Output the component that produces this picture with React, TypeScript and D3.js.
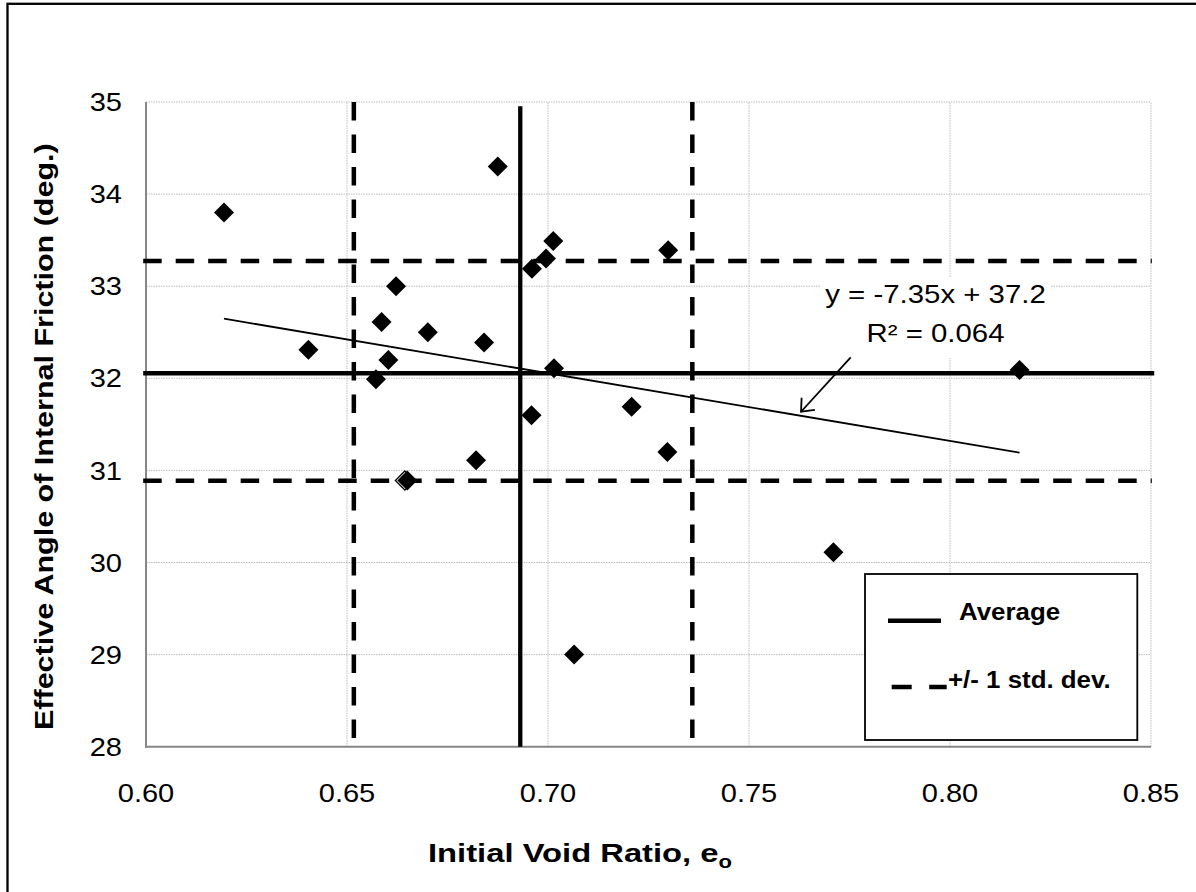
import React from "react";
import * as d3 from "d3";

// ---- data ----
const voidRatio = [0.6194, 0.6404, 0.6572, 0.6586, 0.6603, 0.6622, 0.665, 0.6701, 0.6821, 0.6841, 0.6875, 0.696, 0.6959, 0.6995, 0.7013, 0.7015, 0.7065, 0.7208, 0.7299, 0.7297, 0.771, 0.8173];
const frictionAngle = [33.8, 32.31, 31.99, 32.61, 32.2, 33.0, 30.89, 32.5, 31.11, 32.39, 34.3, 33.19, 31.6, 33.3, 33.49, 32.11, 29.0, 31.69, 33.39, 31.2, 30.11, 32.09];
const openPointX = [0.6644];
const openPointY = [30.89];

const avgPhi = 32.055;
const stdPhiUpper = 33.274;
const stdPhiLower = 30.888;
const avgE = 0.6931;
const stdEUpper = 0.7359;
const stdELower = 0.6517;

const trendSlope = -7.35;
const trendIntercept = 37.2;

const xTicks = [0.6, 0.65, 0.7, 0.75, 0.8, 0.85];
const yTicks = [28, 29, 30, 31, 32, 33, 34, 35];
const xTickLabels = ["0.60", "0.65", "0.70", "0.75", "0.80", "0.85"];

const arrowFrom = [0.7753, 32.228];
const arrowTo = [0.76294, 31.637];

const FONT = "'Liberation Sans', Arial, Helvetica, sans-serif";

function T(props: any) {
  const { x, y, size, k = 1, bold = false, anchor = "start", rot = 0, children } = props;
  return (
    <text
      transform={`translate(${x},${y}) rotate(${rot}) scale(${k},1)`}
      fontSize={size}
      fontWeight={bold ? "bold" : "normal"}
      textAnchor={anchor}
      fontFamily={FONT}
      fill="#000"
    >
      {children}
    </text>
  );
}

export default function App() {
  const W = 1196;
  const H = 892;
  const x = d3.scaleLinear().domain([0.6, 0.85]).range([146, 1151]);
  const y = d3.scaleLinear().domain([28, 35]).range([746.7, 102]);

  const diamond = (cx: number, cy: number, r: number) => {
    const p = d3.path();
    p.moveTo(cx, cy - r);
    p.lineTo(cx + r, cy);
    p.lineTo(cx, cy + r);
    p.lineTo(cx - r, cy);
    p.closePath();
    return p.toString();
  };

  const line = d3.line<[number, number]>().x((d) => x(d[0])).y((d) => y(d[1]));

  const hx0 = 0.5993;
  const hx1 = 0.8502;

  const xMin = d3.min(voidRatio) as number;
  const xMax = d3.max(voidRatio) as number;
  const trendPts: [number, number][] = [
    [xMin, trendSlope * xMin + trendIntercept],
    [xMax, trendSlope * xMax + trendIntercept],
  ];

  // arrow head
  const ax0 = x(arrowFrom[0]), ay0 = y(arrowFrom[1]);
  const ax1 = x(arrowTo[0]), ay1 = y(arrowTo[1]);
  const ang = Math.atan2(ay0 - ay1, ax0 - ax1);
  const hl = 14;
  const ha = (40 * Math.PI) / 180;
  const h1 = [ax1 + hl * Math.cos(ang - ha), ay1 + hl * Math.sin(ang - ha)];
  const h2 = [ax1 + hl * Math.cos(ang + ha), ay1 + hl * Math.sin(ang + ha)];

  const capTick = 25.5 * 0.716;

  return (
    <svg
      width={W}
      height={H}
      style={{ position: "absolute", left: 0, top: 0, background: "#fff" }}
    >
      <rect x={0} y={0} width={W} height={H} fill="#fff" />
      {/* outer frame */}
      <rect x={7.5} y={3.8} width={W + 20} height={H + 20} fill="none" stroke="#000" strokeWidth={2.3} />

      {/* grid */}
      {yTicks.map((t) => (
        <line key={"gy" + t} x1={x(0.6)} x2={x(0.85)} y1={y(t)} y2={y(t)} stroke="#bdbdbd" strokeWidth={1} strokeDasharray="1.5,1" />
      ))}
      {xTicks.map((t) => (
        <line key={"gx" + t} x1={x(t)} x2={x(t)} y1={y(28)} y2={y(35)} stroke="#bdbdbd" strokeWidth={1} strokeDasharray="1.5,1" />
      ))}

      {/* annotation background */}
      <rect x={821} y={277} width={229} height={81} fill="#fff" />

      {/* axes */}
      <line x1={x(0.6)} x2={x(0.6)} y1={y(35)} y2={y(28) + 1} stroke="#868686" strokeWidth={2} />
      <line x1={x(0.6) - 1} x2={x(0.85)} y1={y(28)} y2={y(28)} stroke="#868686" strokeWidth={2} />

      {/* std dev dashed lines */}
      <path d={line([[hx0, stdPhiUpper], [hx1, stdPhiUpper]]) as string} stroke="#000" strokeWidth={4.5} strokeDasharray="18.5,14" fill="none" />
      <path d={line([[hx0, stdPhiLower], [hx1, stdPhiLower]]) as string} stroke="#000" strokeWidth={4.5} strokeDasharray="18.5,14" fill="none" />
      <path d={line([[stdELower, 35], [stdELower, 28]]) as string} stroke="#000" strokeWidth={4.5} strokeDasharray="18.5,14" fill="none" />
      <path d={line([[stdEUpper, 35], [stdEUpper, 28]]) as string} stroke="#000" strokeWidth={4.5} strokeDasharray="18.5,14" fill="none" />

      {/* average lines */}
      <path d={line([[hx0, avgPhi], [0.8508, avgPhi]]) as string} stroke="#000" strokeWidth={4.3} fill="none" />
      <path d={line([[avgE, 34.955], [avgE, 28]]) as string} stroke="#000" strokeWidth={4.3} fill="none" />

      {/* trendline */}
      <path d={line(trendPts) as string} stroke="#000" strokeWidth={1.8} fill="none" />

      {/* points */}
      {openPointX.map((v, i) => (
        <path key={"o" + i} d={diamond(x(v), y(openPointY[i]), 9.5)} fill="#fff" stroke="#000" strokeWidth={1.3} />
      ))}
      {voidRatio.map((v, i) => (
        <path key={"p" + i} d={diamond(x(v), y(frictionAngle[i]), 10)} fill="#000" />
      ))}

      {/* arrow */}
      <line x1={ax0} y1={ay0} x2={ax1} y2={ay1} stroke="#000" strokeWidth={1.8} />
      <polyline points={`${h1[0]},${h1[1]} ${ax1},${ay1} ${h2[0]},${h2[1]}`} fill="none" stroke="#000" strokeWidth={1.8} />

      {/* annotation text */}
      <T x={935.5} y={303.3} size={26} k={1.13} anchor="middle">y = -7.35x + 37.2</T>
      <T x={935.5} y={341.7} size={26} k={1.13} anchor="middle">R² = 0.064</T>

      {/* tick labels */}
      {yTicks.map((t) => (
        <T key={"ty" + t} x={122} y={y(t) + capTick / 2} size={25.5} k={1.14} anchor="end">{String(t)}</T>
      ))}
      {xTicks.map((t, i) => (
        <T key={"tx" + t} x={x(t)} y={801.5} size={25.5} k={1.14} anchor="middle">{xTickLabels[i]}</T>
      ))}

      {/* axis titles */}
      <T x={53.3} y={730} size={25} k={1.22} bold rot={-90} anchor="start">Effective Angle of Internal Friction (deg.)</T>
      <text
        transform={`translate(580,862) scale(1.26,1)`}
        fontSize={26}
        fontWeight="bold"
        textAnchor="middle"
        fontFamily={FONT}
      >
        Initial Void Ratio, e<tspan fontSize={17.5} dy={6}>o</tspan>
      </text>

      {/* legend */}
      <rect x={865} y={574} width={272.3} height={166} fill="#fff" stroke="#000" strokeWidth={1.8} />
      <line x1={888} x2={941} y1={620.7} y2={620.7} stroke="#000" strokeWidth={4.5} />
      <line x1={891.7} x2={946.7} y1={687} y2={687} stroke="#000" strokeWidth={4.5} strokeDasharray="20,17.5" />
      <T x={959} y={620} size={23.3} k={1.11} bold>Average</T>
      <T x={948} y={688.3} size={23.3} k={1.11} bold>+/- 1 std. dev.</T>
    </svg>
  );
}
